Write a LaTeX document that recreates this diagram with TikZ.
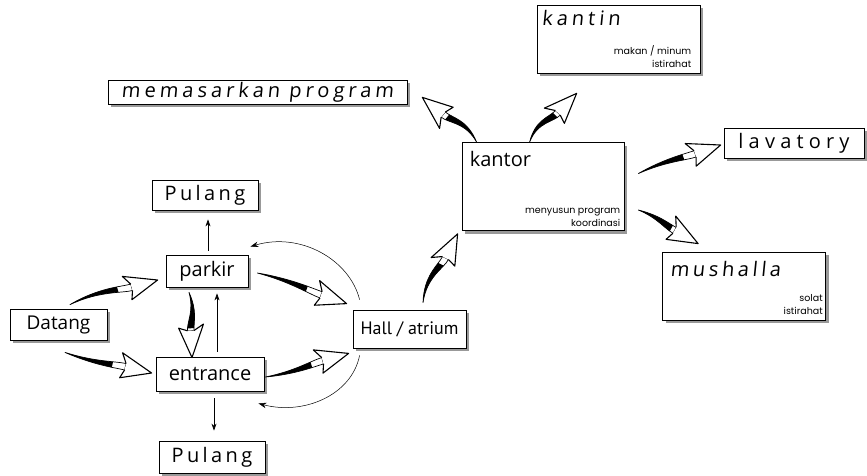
\documentclass[tikz,border=0pt]{standalone}
\usepackage{fontspec}
\setmainfont{Open Sans}
\newfontfamily\ptsans{PT Sans}
\newfontfamily\smallfont{Poppins}
\usetikzlibrary{calc,shadows,arrows.meta}

% hand-drawn style "swoosh" arrow: #1 tail, #2 tip, #3 bend (px, + = left of travel)
\newcommand\swoosh[3]{%
  \pgfmathsetmacro\swA{#3+1.6}%
  \pgfmathsetmacro\swB{#3-1.6}%
  \coordinate (swt) at #1;
  \coordinate (swh) at #2;
  \coordinate (nk) at ($(swh)!27pt!(swt)$);
  \coordinate (c1l) at ($(swt)!0.5!(nk)!\swA pt!90:(swh)$);
  \coordinate (c1r) at ($(swt)!0.5!(nk)!\swB pt!90:(swh)$);
  \coordinate (c2l) at ($(nk)!10pt!(swt)!3.3pt!90:(swh)$);
  \coordinate (c2r) at ($(nk)!10pt!(swt)!-3.3pt!90:(swh)$);
  \coordinate (nl) at ($(nk)!3.3pt!90:(swh)$);
  \coordinate (nr) at ($(nk)!-3.3pt!90:(swh)$);
  \coordinate (bl) at ($(nk)!6pt!(swt)!13pt!90:(swh)$);
  \coordinate (br) at ($(nk)!3pt!(swt)!-12pt!90:(swh)$);
  \filldraw[swline, fill=white] (swt) .. controls (c1l) and (c2l) .. (nl) -- (nr) .. controls (c2r) and (c1r) .. (swt) -- cycle;
  \begin{scope}
    \clip ($(swt)!0.55!(swh)!40pt!90:(swh)$) -- ($(swt)!0.55!(swh)!-40pt!90:(swh)$)
       -- ($(swt)!-0.3!(swh)!-40pt!90:(swh)$) -- ($(swt)!-0.3!(swh)!40pt!90:(swh)$) -- cycle;
    \fill[black] (swt) .. controls (c1l) and (c2l) .. (nl) -- (nr) .. controls (c2r) and (c1r) .. (swt) -- cycle;
  \end{scope}
  \fill[white] (nl) -- (bl) -- (swh) -- (br) -- (nr) -- cycle;
  \draw[swhead] (nl) -- (bl) -- (swh) -- (br) -- (nr);
}

\begin{document}
\begin{tikzpicture}[x=1pt,y=-1pt,
  box/.style={draw, line width=0.8pt, fill=white, inner sep=0pt,
    general shadow={fill=black!40, shadow xshift=3pt, shadow yshift=-3pt}},
  mainlbl/.style={font=\fontsize{20}{22}\selectfont},
  spacedlbl/.style={font=\fontsize{20}{22}\selectfont\addfontfeature{LetterSpace=#1}},
  slantlbl/.style={font=\fontsize{20}{22}\selectfont\addfontfeature{LetterSpace=#1,FakeSlant=0.1}},
  sublbl/.style={font=\smallfont\fontsize{9.5}{13}\selectfont, align=right, inner sep=0pt},
  titlelbl/.style={inner sep=0pt, anchor=base west},
  thinarrow/.style={line width=0.6pt, -{Stealth[length=7pt,width=5pt]}},
  arcarrow/.style={line width=0.5pt, -{Stealth[length=8pt,width=5.5pt]}},
  swline/.style={line width=0.7pt, line join=round},
  swhead/.style={line width=1.1pt, line join=round}]

\fill[white] (0,0) rectangle (867,475);
\useasboundingbox (0,0) rectangle (867,475);

% boxes
\node[box, minimum width=299pt, minimum height=24pt, slantlbl=20] (mem) at (257.5,92) {memasarkan program};
\node[box, minimum width=163pt, minimum height=68pt] (kantin) at (618.5,39) {};
\node[box, minimum width=106pt, minimum height=30pt, spacedlbl=17] (pulT) at (205,195) {Pulang};
\node[box, minimum width=162pt, minimum height=88pt] (kantor) at (543,186.5) {};
\node[box, minimum width=140pt, minimum height=30pt, spacedlbl=26] (lav) at (794,143) {lavatory};
\node[box, minimum width=82pt, minimum height=32pt, mainlbl] (parkir) at (207,271) {parkir};
\node[box, minimum width=97pt, minimum height=31pt, font=\fontsize{19}{21}\selectfont] (datang) at (58.5,324.5) {Datang};
\node[box, minimum width=163pt, minimum height=68pt] (mush) at (744,286) {};
\node[box, minimum width=113pt, minimum height=38pt, font=\ptsans\fontsize{18}{20}\selectfont] (hall) at (409.5,329) {Hall / atrium};
\node[box, minimum width=108pt, minimum height=34pt, mainlbl] (entr) at (210,374) {entrance};
\node[box, minimum width=106pt, minimum height=32pt, spacedlbl=17] (pulB) at (212,457) {Pulang};

% texts inside the large boxes
\node[titlelbl, slantlbl=20] (kantinT) at ([shift={(5,21)}]kantin.north west) {kantin};
\node[sublbl, anchor=south east] (kantinS) at ([shift={(-9,-6)}]kantin.south east) {makan / minum\\istirahat};
\node[titlelbl, font=\fontsize{20}{22}\selectfont] (kantorT) at ([shift={(8,24)}]kantor.north west) {kantor};
\node[sublbl, anchor=south east] (kantorS) at ([shift={(-4,-4)}]kantor.south east) {menyusun program\\koordinasi};
\node[titlelbl, slantlbl=18] (mushT) at ([shift={(8,25)}]mush.north west) {mushalla};
\node[sublbl, anchor=south east] (mushS) at ([shift={(-3,-6)}]mush.south east) {solat\\istirahat};

% swoosh arrows
\swoosh{([shift={(11.5,-4)}]datang.north)}{([shift={(-8,9)}]parkir.west)}{7}
\swoosh{([shift={(6.5,12)}]datang.south)}{([shift={(-4,-1)}]entr.west)}{-4}
\swoosh{([shift={(-18,5)}]parkir.south)}{([shift={(-18,1)}]entr.north)}{6}
\swoosh{([shift={(9,2)}]parkir.east)}{([shift={(-6,-6)}]hall.north west)}{4}
\swoosh{([shift={(1,3)}]entr.east)}{([shift={(-4,5)}]hall.south west)}{-4}
\swoosh{([shift={(13.5,-7)}]hall.north)}{([shift={(-4,3)}]kantor.south west)}{10}
\swoosh{([shift={(15,0)}]kantor.north west)}{([shift={(15,-7)}]mem.south east)}{-10}
\swoosh{([shift={(68,0)}]kantor.north west)}{([shift={(40,20)}]kantin.south west)}{10}
\swoosh{([shift={(14,-13)}]kantor.east)}{([shift={(-3,2)}]lav.west)}{4}
\swoosh{([shift={(14,23.5)}]kantor.east)}{([shift={(36,-8)}]mush.north west)}{4}

% thin arrows
\draw[thinarrow] ([shift={(1,-4)}]parkir.north) -- ([shift={(3,9)}]pulT.south);
\draw[thinarrow] ([shift={(7,-5)}]entr.north) -- ([shift={(10,6)}]parkir.south);
\draw[thinarrow] ([shift={(4,7)}]entr.south) -- ([shift={(2,-10)}]pulB.north);

% return arcs from the hall
\draw[arcarrow] ([shift={(7,-10)}]hall.north west) .. controls +(-10,-40) and +(50,-15) .. ([shift={(2,-8)}]parkir.north east);
\draw[arcarrow] ([shift={(7,7)}]hall.south west) .. controls +(-8,40) and +(45,12) .. ([shift={(-6,12)}]entr.south east);

\end{tikzpicture}
\end{document}
